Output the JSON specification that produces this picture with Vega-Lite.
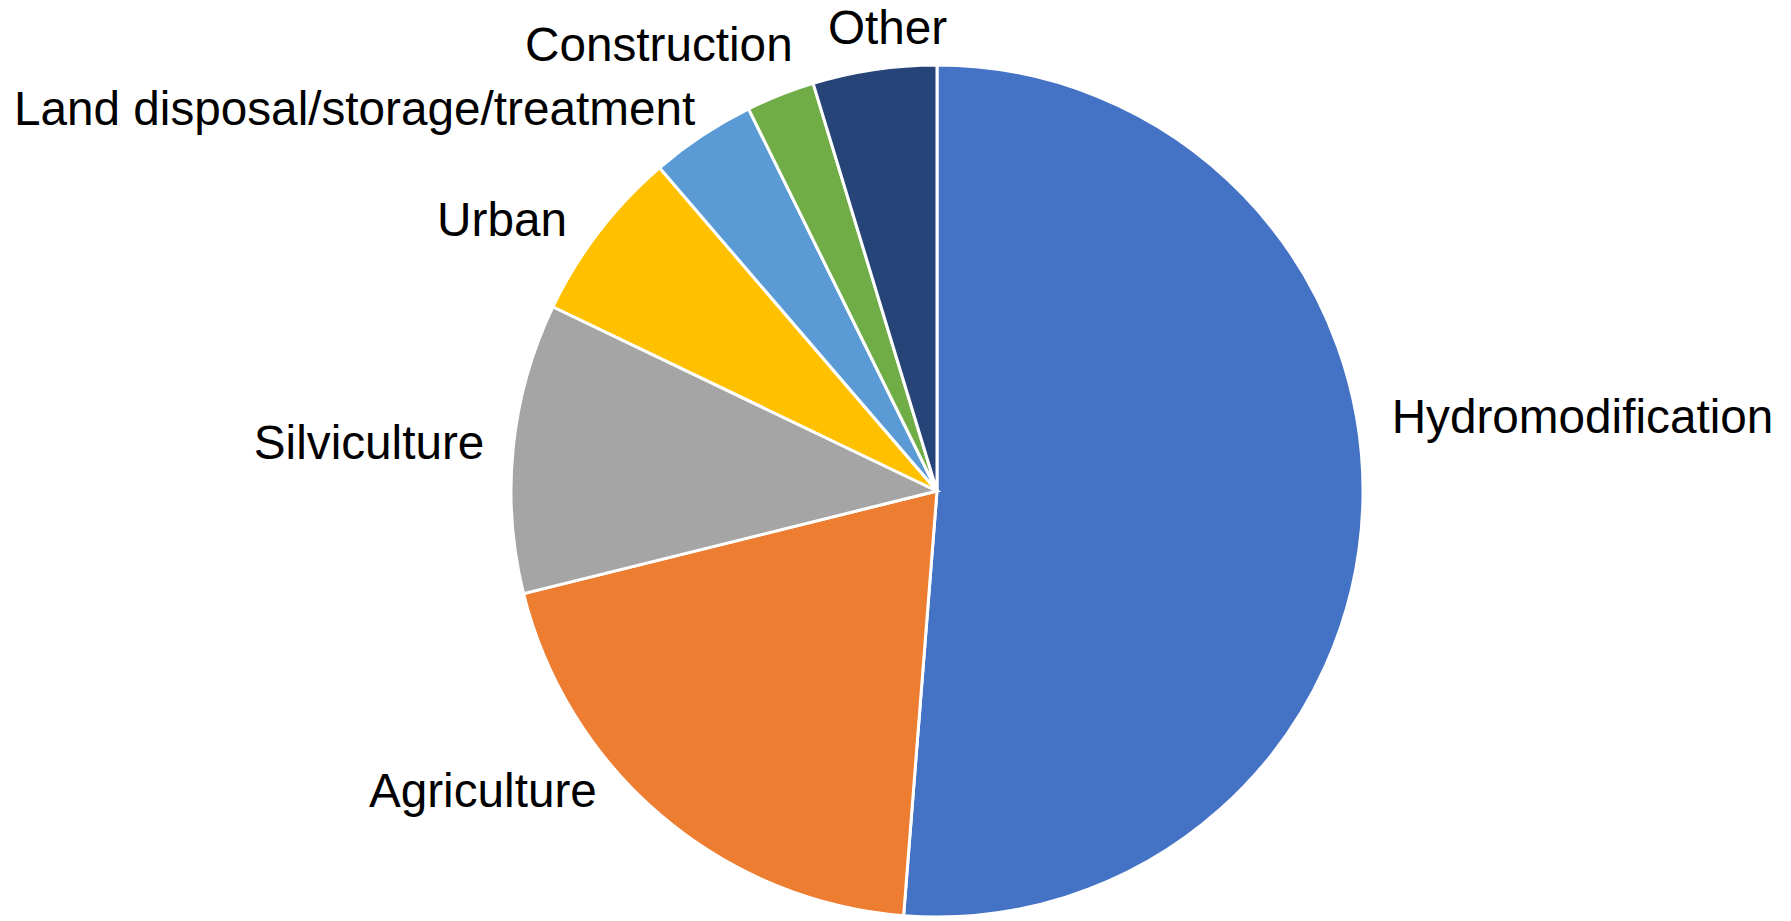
{
  "$schema": "https://vega.github.io/schema/vega-lite/v6.json",
  "autosize": {"type": "none"},
  "width": 1708,
  "height": 860,
  "padding": {"left": 83, "top": 61, "right": 0, "bottom": 0},
  "background": "white",
  "config": {"view": {"stroke": null}, "text": {"font": "Liberation Sans"}},
  "data": {
    "values": [
      {"category": "Hydromodification", "value": 51.3, "rank": 1},
      {"category": "Agriculture", "value": 19.9, "rank": 2},
      {"category": "Silviculture", "value": 11.0, "rank": 3},
      {"category": "Urban", "value": 6.6, "rank": 4},
      {"category": "Land disposal/storage/treatment", "value": 4.0, "rank": 5},
      {"category": "Construction", "value": 2.6, "rank": 6},
      {"category": "Other", "value": 4.7, "rank": 7}
    ]
  },
  "encoding": {
    "theta": {"field": "value", "type": "quantitative", "stack": true},
    "order": {"field": "rank", "type": "quantitative"}
  },
  "layer": [
    {
      "mark": {"type": "arc", "outerRadius": 426, "stroke": "white", "strokeWidth": 3},
      "encoding": {
        "color": {
          "field": "category",
          "type": "nominal",
          "legend": null,
          "scale": {
            "domain": ["Hydromodification", "Agriculture", "Silviculture", "Urban", "Land disposal/storage/treatment", "Construction", "Other"],
            "range": ["#4472C4", "#ED7D31", "#A5A5A5", "#FFC000", "#5B9BD5", "#70AD47", "#264478"]
          }
        }
      }
    },
    {
      "mark": {
        "type": "text",
        "radius": {"expr": "datum.category == 'Other' ? 466 : 455"},
        "align": {"expr": "datum.category == 'Hydromodification' ? 'left' : datum.category == 'Other' ? 'center' : 'right'"},
        "dx": {"expr": "datum.category == 'Other' ? 19 : datum.category == 'Construction' ? 23 : datum.category == 'Agriculture' ? -46 : datum.category == 'Urban' ? -9 : datum.category == 'Land disposal/storage/treatment' ? 9 : 0"},
        "dy": {"expr": "datum.category == 'Hydromodification' ? -90 : datum.category == 'Agriculture' ? -45 : datum.category == 'Construction' ? -21 : datum.category == 'Urban' ? 8 : 0"},
        "baseline": "middle",
        "fontSize": 47.7,
        "color": "black"
      },
      "encoding": {"text": {"field": "category"}}
    }
  ]
}
